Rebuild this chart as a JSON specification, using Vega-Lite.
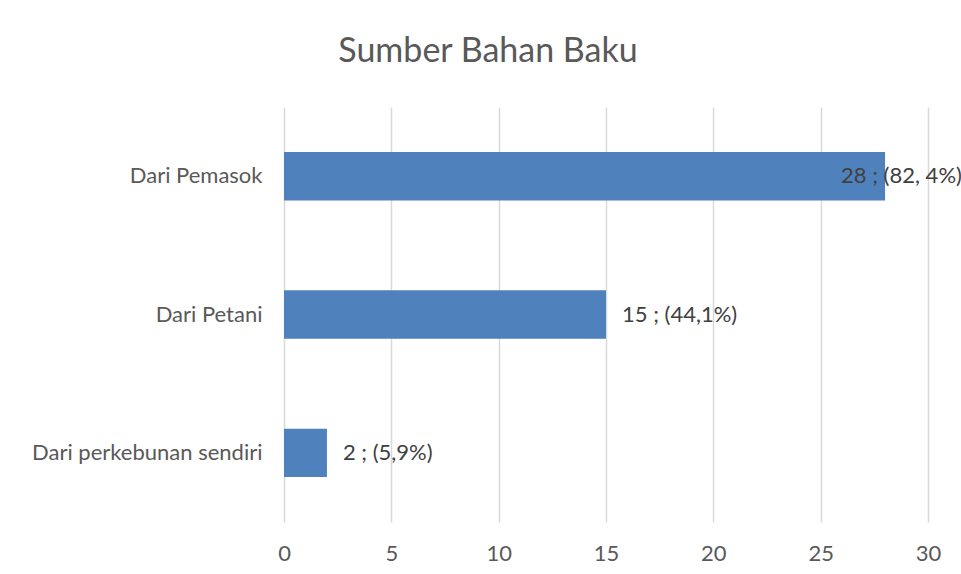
{
  "$schema": "https://vega.github.io/schema/vega-lite/v6.json",
  "autosize": "none",
  "width": 644,
  "height": 415,
  "padding": {"left": 284, "top": 107, "right": 33, "bottom": 52},
  "background": "white",
  "title": {
    "text": "Sumber Bahan Baku",
    "anchor": "middle",
    "frame": "group",
    "baseline": "alphabetic",
    "offset": 11,
    "dx": -118,
    "font": "Lato",
    "fontSize": 34,
    "fontWeight": "normal",
    "color": "#595959"
  },
  "data": {
    "values": [
      {"sumber": "Dari Pemasok", "jumlah": 28, "label": "28 ; (82, 4%)"},
      {"sumber": "Dari Petani", "jumlah": 15, "label": "15 ; (44,1%)"},
      {"sumber": "Dari perkebunan sendiri", "jumlah": 2, "label": "2 ; (5,9%)"}
    ]
  },
  "encoding": {
    "y": {
      "field": "sumber",
      "type": "nominal",
      "sort": null,
      "title": null,
      "scale": {"paddingInner": 0.65, "paddingOuter": 0.325},
      "axis": {
        "domain": false,
        "ticks": false,
        "labelPadding": 22,
        "labelFont": "Lato",
        "labelFontSize": 22,
        "labelColor": "#595959",
        "labelLimit": 300
      }
    },
    "x": {
      "field": "jumlah",
      "type": "quantitative",
      "title": null,
      "scale": {"domain": [0, 30]},
      "axis": {
        "values": [0, 5, 10, 15, 20, 25, 30],
        "domain": false,
        "ticks": false,
        "grid": true,
        "gridColor": "#d9d9d9",
        "gridWidth": 1.5,
        "labelFlush": false,
        "labelPadding": 21,
        "labelFont": "Lato",
        "labelFontSize": 22,
        "labelColor": "#595959"
      }
    }
  },
  "layer": [
    {"mark": {"type": "bar", "color": "#4f81bd"}},
    {
      "mark": {
        "type": "text",
        "align": "left",
        "baseline": "middle",
        "dx": {"expr": "datum.jumlah > 25 ? -44 : 16"},
        "font": "Lato",
        "fontSize": 22,
        "color": "#404040"
      },
      "encoding": {"text": {"field": "label"}}
    }
  ],
  "config": {"view": {"stroke": null}}
}
